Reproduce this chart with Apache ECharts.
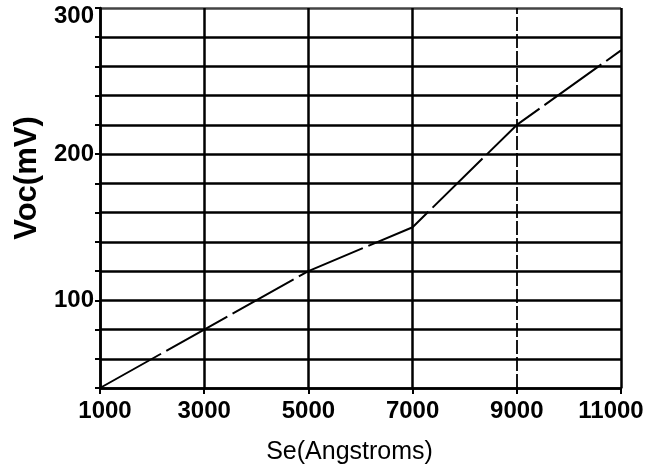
<!DOCTYPE html>
<html>
<head>
<meta charset="utf-8">
<script src="https://cdn.jsdelivr.net/npm/echarts@6/dist/echarts.min.js"></script>
<style>
html,body{margin:0;padding:0;background:#fff;}
#c{width:653px;height:471px;}
</style>
</head>
<body>
<div id="c"></div>
<script>
// Data
const seThickness = [1000, 3000, 5000, 7000, 9000, 11000];
const vocValues = [40, 80, 120, 150, 220, 271];
const xTickLabels = ['1000', '3000', '5000', '7000', '9000', '11000'];
const yTickLabels = [100, 200, 300];
const dashedVerticalAt = [9000];

const chart = echarts.init(document.getElementById('c'), null, {renderer: 'canvas'});
const labelFont = {fontFamily: 'Liberation Sans', fontWeight: 'bold', fontSize: 24, color: '#000'};

const option = {
  animation: false,
  backgroundColor: '#fff',
  grid: {left: 100, right: 32, top: 8, bottom: 83, containLabel: false},
  xAxis: {
    type: 'value',
    min: 1000, max: 11000, interval: 2000,
    name: 'Se(Angstroms)',
    nameLocation: 'middle',
    nameGap: 52,
    nameTextStyle: {fontFamily: 'Liberation Sans', fontSize: 25, color: '#000', padding: [0, 22, 0, 0]},
    axisLine: {show: true, lineStyle: {color: '#000', width: 2.5}},
    axisTick: {show: true, length: 6, lineStyle: {color: '#000', width: 2}},
    axisLabel: {
      margin: 11,
      ...labelFont,
      formatter: function (v) {
        const s = String(v);
        if (!xTickLabels.includes(s)) return '';
        if (v === 1000) return '{a|' + s + '}';
        if (v === 11000) return '{b|' + s + '}';
        return s;
      },
      rich: {
        a: {...labelFont, padding: [0, 0, 0, 10]},
        b: {...labelFont, padding: [0, 20, 0, 0]}
      }
    },
    splitLine: {show: true, lineStyle: {color: ['#000', '#000', '#000', '#000', 'rgba(0,0,0,0)', '#000'], width: 2.5}}
  },
  yAxis: {
    type: 'value',
    min: 40, max: 300, interval: 20,
    name: 'Voc(mV)',
    nameLocation: 'middle',
    nameGap: 57,
    nameTextStyle: {fontFamily: 'Liberation Sans', fontWeight: 'bold', fontSize: 31, color: '#000', padding: [0, 0, 0, 40]},
    axisLine: {show: true, lineStyle: {color: '#000', width: 2.5}},
    axisTick: {show: true, length: 5, lineStyle: {color: '#000', width: 2}},
    axisLabel: {
      margin: 6,
      ...labelFont,
      formatter: function (v) {
        if (!yTickLabels.includes(v)) return '';
        if (v === 300) return '{t|' + v + '}';
        return String(v);
      },
      rich: {t: {...labelFont, padding: [16, 0, 0, 0]}}
    },
    splitLine: {show: true, lineStyle: {color: ['#000','#000','#000','#000','#000','#000','#000','#000','#000','#000','#000','#000','#000','#444'], width: 2.5}}
  },
  series: [
    {
      type: 'line',
      data: seThickness.map((x, i) => [x, vocValues[i]]),
      symbol: 'none',
      lineStyle: {color: '#000', width: 2, type: [70, 6]},
      markLine: {
        silent: true,
        symbol: 'none',
        label: {show: false},
        lineStyle: {color: '#000', width: 1.8, type: [14, 3], opacity: 1},
        data: dashedVerticalAt.map(x => ({xAxis: x}))
      }
    }
  ]
};
chart.setOption(option);
</script>
</body>
</html>
